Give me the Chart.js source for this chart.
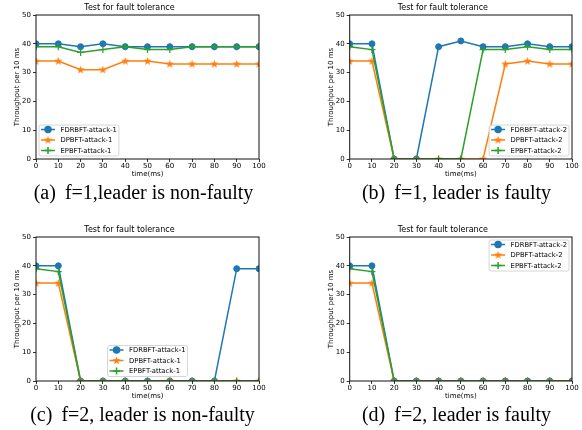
<!DOCTYPE html>
<html>
<head>
<meta charset="utf-8">
<script src="https://cdn.jsdelivr.net/npm/chart.js@4.4.1/dist/chart.umd.min.js"></script>
<style>
    html, body { margin: 0; padding: 0; background: #fff; }
    #page { position: relative; width: 582px; height: 430px; overflow: hidden; }
    .panel { position: absolute; }
    .caption {
        position: absolute; width: 291px; text-align: center;
        font-family: "Liberation Serif", "DejaVu Serif", serif;
        font-size: 20px; line-height: 22px; color: #000; white-space: nowrap;
    }
    .caption .tag { margin-right: 9px; }
</style>
</head>
<body>
<div id="page">
    <canvas id="chartA" class="panel" width="291" height="182" style="left:0;top:0"></canvas>
    <canvas id="chartB" class="panel" width="291" height="182" style="left:291px;top:0"></canvas>
    <canvas id="chartC" class="panel" width="291" height="182" style="left:0;top:222px"></canvas>
    <canvas id="chartD" class="panel" width="291" height="182" style="left:291px;top:222px"></canvas>
    <div class="caption" style="left:-2px;top:181px"><span class="tag">(a)</span>f=1,leader is non-faulty</div>
    <div class="caption" style="left:311px;top:181px"><span class="tag">(b)</span>f=1, leader is faulty</div>
    <div class="caption" style="left:-3px;top:403px"><span class="tag">(c)</span>f=2, leader is non-faulty</div>
    <div class="caption" style="left:311px;top:403px"><span class="tag">(d)</span>f=2, leader is faulty</div>
</div>
<script>
// x positions (ms) and tick values
const timeMs = [0, 10, 20, 30, 40, 50, 60, 70, 80, 90, 100];
const yTicks = [0, 10, 20, 30, 40, 50];

const namesAttack1 = ['FDRBFT-attack-1', 'DPBFT-attack-1', 'EPBFT-attack-1'];
const namesAttack2 = ['FDRBFT-attack-2', 'DPBFT-attack-2', 'EPBFT-attack-2'];

// (a) f=1, leader is non-faulty
const fdrbftA = [40, 40, 39, 40, 39, 39, 39, 39, 39, 39, 39];
const dpbftA  = [34, 34, 31, 31, 34, 34, 33, 33, 33, 33, 33];
const epbftA  = [39, 39, 37, 38, 39, 38, 38, 39, 39, 39, 39];

// (b) f=1, leader is faulty
const fdrbftB = [40, 40, 0, 0, 39, 41, 39, 39, 40, 39, 39];
const dpbftB  = [34, 34, 0, 0, 0, 0, 0, 33, 34, 33, 33];
const epbftB  = [39, 38, 0, 0, 0, 0, 38, 38, 39, 38, 38];

// (c) f=2, leader is non-faulty
const fdrbftC = [40, 40, 0, 0, 0, 0, 0, 0, 0, 39, 39];
const dpbftC  = [34, 34, 0, 0, 0, 0, 0, 0, 0, 0, 0];
const epbftC  = [39, 38, 0, 0, 0, 0, 0, 0, 0, 0, 0];

// (d) f=2, leader is faulty
const fdrbftD = [40, 40, 0, 0, 0, 0, 0, 0, 0, 0, 0];
const dpbftD  = [34, 34, 0, 0, 0, 0, 0, 0, 0, 0, 0];
const epbftD  = [39, 38, 0, 0, 0, 0, 0, 0, 0, 0, 0];

const BLUE = '#1f77b4', ORANGE = '#ff7f0e', GREEN = '#2ca02c';
const FONT = '"DejaVu Sans", sans-serif';

// filled star marker like matplotlib '*'
function makeStar(color) {
    const c = document.createElement('canvas');
    c.width = 9; c.height = 9;
    const g = c.getContext('2d');
    g.beginPath();
    for (let i = 0; i < 10; i++) {
        const r = i % 2 === 0 ? 4.3 : 1.8;
        const a = -Math.PI / 2 + i * Math.PI / 5;
        const px = 4.5 + r * Math.cos(a), py = 4.7 + r * Math.sin(a);
        if (i === 0) g.moveTo(px, py); else g.lineTo(px, py);
    }
    g.closePath();
    g.fillStyle = color;
    g.fill();
    return c;
}
const starOrange = makeStar(ORANGE);

const markers = [
    { pointStyle: 'circle', radius: 3, borderWidth: 1 },
    { pointStyle: starOrange, radius: 4, borderWidth: 1 },
    { pointStyle: 'cross', radius: 3.5, borderWidth: 1.2 }
];
const colors = [BLUE, ORANGE, GREEN];

// frame on all four sides + matplotlib-style legend box
const frameAndLegend = {
    id: 'frameAndLegend',
    afterDraw(chart, args, opts) {
        const { ctx, chartArea: a } = chart;
        ctx.save();
        ctx.strokeStyle = '#111';
        ctx.lineWidth = 1;
        ctx.strokeRect(a.left, a.top, a.right - a.left, a.bottom - a.top);

        ctx.font = '6.8px ' + FONT;
        const sets = chart.data.datasets;
        const textW = Math.max(...sets.map(d => ctx.measureText(d.label).width));
        const w = 2 + 14 + 5.5 + textW + 2;
        const h = 31;
        let x, y;
        if (opts.loc === 'lower left') { x = a.left + 3; y = a.bottom - 3 - h; }
        else if (opts.loc === 'lower right') { x = a.right - 3 - w; y = a.bottom - 3 - h; }
        else if (opts.loc === 'lower center') { x = (a.left + a.right) / 2 - w / 2; y = a.bottom - 4.5 - h; }
        else { x = a.right - 3 - w; y = a.top + 3; }

        ctx.beginPath();
        ctx.roundRect(x, y, w, h, 2);
        ctx.fillStyle = 'rgba(255,255,255,0.8)';
        ctx.fill();
        ctx.strokeStyle = '#cccccc';
        ctx.lineWidth = 0.8;
        ctx.stroke();

        sets.forEach((d, i) => {
            const cy = y + 4.5 + i * 10.5;
            ctx.strokeStyle = d.borderColor;
            ctx.lineWidth = 1.5;
            ctx.beginPath();
            ctx.moveTo(x + 2, cy);
            ctx.lineTo(x + 16, cy);
            ctx.stroke();
            ctx.fillStyle = d.borderColor;
            Chart.helpers.drawPoint(ctx, {
                pointStyle: d.pointStyle, radius: d.pointRadius,
                borderWidth: d.pointBorderWidth, rotation: 0
            }, x + 9, cy);
            ctx.fillStyle = '#000';
            ctx.textBaseline = 'middle';
            ctx.textAlign = 'left';
            ctx.fillText(d.label, x + 21.5, cy + 0.5);
        });
        ctx.restore();
    }
};

function makePanel(canvasId, series, names, legendLoc, padLeft, padRight) {
    const datasets = series.map((vals, i) => ({
        label: names[i],
        data: timeMs.map((t, j) => ({ x: t, y: vals[j] })),
        borderColor: colors[i],
        backgroundColor: colors[i],
        borderWidth: 1.5,
        pointStyle: markers[i].pointStyle,
        pointRadius: markers[i].radius,
        pointBorderWidth: markers[i].borderWidth,
        pointBackgroundColor: colors[i],
        pointBorderColor: colors[i],
        tension: 0,
        order: 3 - i
    }));

    const tickGrid = {
        display: true,
        drawOnChartArea: false,
        drawTicks: true,
        tickLength: 3,
        color: '#000',
        lineWidth: 0.8
    };

    return new Chart(document.getElementById(canvasId), {
        type: 'line',
        data: { datasets },
        plugins: [frameAndLegend],
        options: {
            responsive: false,
            animation: false,
            devicePixelRatio: 1,
            layout: { padding: { left: padLeft, right: padRight, top: 0, bottom: 0 } },
            plugins: {
                legend: { display: false },
                tooltip: { enabled: false },
                title: {
                    display: true,
                    text: 'Test for fault tolerance',
                    color: '#000',
                    font: { family: FONT, size: 8, weight: 'normal' },
                    padding: { top: 3.2, bottom: 2.2 }
                },
                frameAndLegend: { loc: legendLoc }
            },
            scales: {
                x: {
                    type: 'linear',
                    min: 0,
                    max: 100,
                    afterBuildTicks: s => { s.ticks = timeMs.map(v => ({ value: v })); },
                    afterFit: s => { s.height = 23; },
                    border: { display: false },
                    grid: tickGrid,
                    ticks: { color: '#000', font: { family: FONT, size: 7 }, padding: 0, maxRotation: 0, autoSkip: false },
                    title: { display: true, text: 'time(ms)', color: '#000', font: { family: FONT, size: 7 }, padding: { top: 0, bottom: 3.5 } }
                },
                y: {
                    min: 0,
                    max: 50,
                    afterBuildTicks: s => { s.ticks = yTicks.map(v => ({ value: v })); },
                    afterFit: s => { s.width = 36; },
                    border: { display: false },
                    grid: tickGrid,
                    ticks: { color: '#000', font: { family: FONT, size: 7 }, padding: 2 },
                    title: { display: true, text: 'Throughput per 10 ms', color: '#000', font: { family: FONT, size: 7 }, padding: { top: 12.8, bottom: 0 } }
                }
            }
        }
    });
}

makePanel('chartA', [fdrbftA, dpbftA, epbftA], namesAttack1, 'lower left', 0, 32);
makePanel('chartB', [fdrbftB, dpbftB, epbftB], namesAttack2, 'lower right', 22.7, 10);
makePanel('chartC', [fdrbftC, dpbftC, epbftC], namesAttack1, 'lower center', 0, 32);
makePanel('chartD', [fdrbftD, dpbftD, epbftD], namesAttack2, 'upper right', 22.7, 10);
</script>
</body>
</html>
